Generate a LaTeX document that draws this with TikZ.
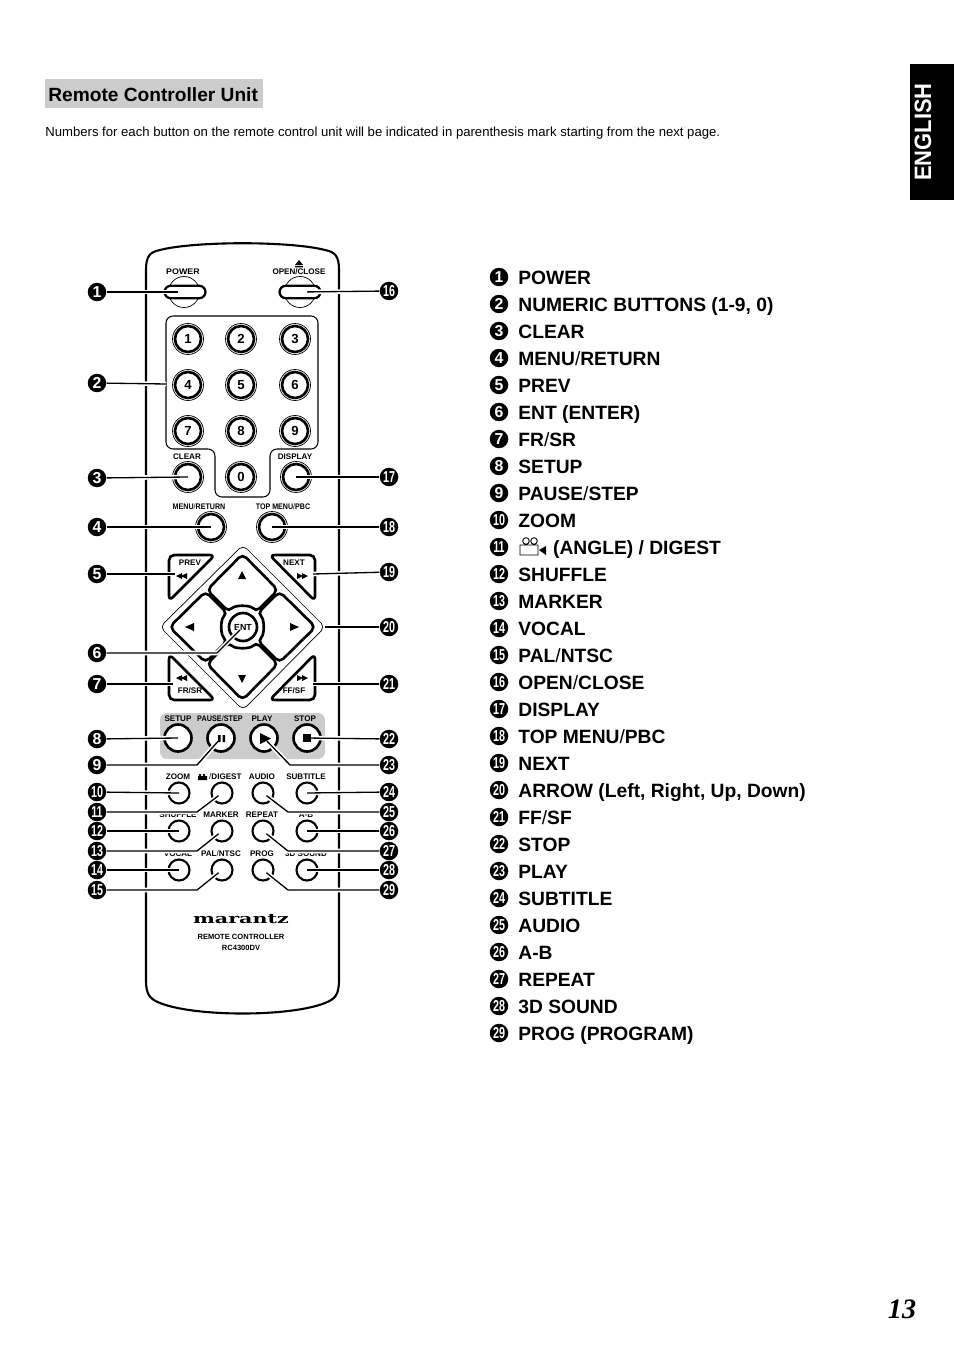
\documentclass[tikz,border=0pt]{standalone}
\usepackage{fontspec}
\setmainfont{Liberation Sans}
\newfontfamily\serifnum{Liberation Serif}
\newfontfamily\brandfont{DejaVu Serif}
\newcommand{\fs}[1]{\fontsize{#1}{#1}\selectfont}
\newcommand{\sla}{\textmd{/}}
\newcommand{\dotnum}[1]{\ifnum#1>9 \scalebox{.68}[1]{#1}\else #1\fi}
\tikzset{
  numdot/.style={circle,fill=black,text=white,inner sep=0pt,minimum size=0.37cm,font=\bfseries\fs{9}},
  legend/.style={anchor=west,inner sep=0pt,text height=8pt,text depth=0pt,font=\bfseries\fs{10.95}},
  tiny/.style={inner sep=0pt,font=\bfseries\fs{4.6}},
  hair/.style={line width=.4pt},
  keybtn/.style={circle,draw,fill=white,line width=1.5pt,inner sep=0pt,minimum size=0.52cm,font=\bfseries\fs{7.5}},
  gobtn/.style={circle,draw,fill=white,line width=1.5pt,inner sep=0pt,minimum size=0.54cm},
  smallbtn/.style={circle,draw,line width=1.2pt,inner sep=0pt,minimum size=0.42cm},
  capsule/.style={draw,fill=white,line width=1.3pt,rounded corners=3.6pt,inner sep=0pt,minimum width=0.82cm,minimum height=0.25cm},
  padkey/.style={draw,fill=white,line width=1.5pt,rounded corners=3pt},
  leader/.style={draw,line width=.75pt,preaction={draw=white,line width=2.6pt}}
}
\begin{document}
\begin{tikzpicture}[x=0.02cm,y=-0.02cm]
\useasboundingbox (0,0) rectangle (954,1351);
% heading
\fill[gray!40] (45,79) rectangle (263,108);
\node[anchor=west,inner sep=0pt,font=\bfseries\fs{10.9}] (title) at (48,95) {Remote Controller Unit};
\node[anchor=west,inner sep=0pt,font=\fs{7.47}] (intro) at (45,133) {Numbers for each button on the remote control unit will be indicated in parenthesis mark starting from the next page.};
\fill (910,64) rectangle (954,200);
\node[rotate=90,text=white,inner sep=0pt,font=\bfseries\fs{13.5}] (lang) at (923,132) {\scalebox{.925}[1]{ENGLISH}};
\node[inner sep=0pt,font=\serifnum\bfseries\itshape\fs{16}] (page) at (902,1309) {13};
% remote body
\draw[line width=1.2pt] (146,270) .. controls (146,256) and (150,252) .. (160,250) .. controls (195,241) and (290,241) .. (325,250)
  .. controls (335,252) and (339,256) .. (339,270) -- (339,980) .. controls (339,995) and (335,999) .. (325,1003)
  .. controls (290,1017) and (195,1017) .. (160,1003) .. controls (150,999) and (146,995) .. (146,980) -- cycle;
\draw[line width=.6pt,rounded corners=4pt] (166,316) -- (318,316) -- (318,449) -- (270,449) -- (270,497) -- (215,497) -- (215,449) -- (166,449) -- cycle;
\coordinate (panel) at (166,384);
% power and eject
\draw[hair] (184,292) circle (15.5);
\draw[hair] (300,292) circle (15.5);
\node[capsule] (power) at (185,292) {};
\node[capsule] (open) at (300,292) {};
\node[tiny] (lpower) at (183,272) {\scalebox{1.1}[1]{POWER}};
\node[tiny] (lopen) at (299,272) {OPEN/CLOSE};
\fill (295,265) -- (299,260) -- (303,265) -- cycle (295,266) rectangle (303,267.5);
% number keys
\foreach \n/\p in {1/{188,339},2/{241,339},3/{295,339},4/{188,385},5/{241,385},6/{295,385},7/{188,431},8/{241,431},9/{295,431},0/{241,477}}{
  \draw[hair] (\p) circle (15.5);
  \node[keybtn] (key\n) at (\p) {\n};
}
\foreach \k/\p/\t/\q in {clear/{188,477}/CLEAR/{187,457},display/{296,477}/DISPLAY/{295,457},menu/{211,527}/{\scalebox{.88}[1]{MENU\sla RETURN}}/{199,507},topmenu/{272,527}/{\scalebox{.88}[1]{TOP MENU\sla PBC}}/{283,507}}{
  \draw[hair] (\p) circle (15.5);
  \node[keybtn] (\k) at (\p) {};
  \node[tiny] (l\k) at (\q) {\t};
}
% arrow pad
\draw[hair,rounded corners=3pt] (243,545) -- (325,627) -- (243,710) -- (160,627) -- cycle;
\coordinate (padedge) at (325,627);
\draw[hair] (243,627) circle (38);
\path[padkey] (242.5,554) -- (278,590) -- (256,612) .. controls (250,605) and (235,605) .. (229,612) -- (207,590) -- cycle;
\path[padkey] (242.5,700) -- (278,664) -- (256,642) .. controls (250,649) and (235,649) .. (229,642) -- (207,664) -- cycle;
\path[padkey] (169.5,627) -- (205.5,662.5) -- (227.5,640.5) .. controls (220.5,634.5) and (220.5,619.5) .. (227.5,613.5) -- (205.5,591.5) -- cycle;
\path[padkey] (315.5,627) -- (279.5,662.5) -- (257.5,640.5) .. controls (264.5,634.5) and (264.5,619.5) .. (257.5,613.5) -- (279.5,591.5) -- cycle;
\fill (242,571) -- (246,579) -- (238,579) -- cycle (242,683) -- (246,675) -- (238,675) -- cycle;
\fill (185,627) -- (194,623) -- (194,631) -- cycle (299,627) -- (290,623) -- (290,631) -- cycle;
\node[keybtn,minimum size=0.56cm,font=\bfseries\fs{5}] (ent) at (243,627) {ENT};
% corner keys
\path[padkey] (169,555) -- (215,555) -- (169,601) -- cycle;
\path[padkey] (315,555) -- (269.5,555) -- (315,601) -- cycle;
\path[padkey] (169,700) -- (215,700) -- (169,654) -- cycle;
\path[padkey] (315,700) -- (269.5,700) -- (315,654) -- cycle;
\coordinate (prev) at (175,574);
\coordinate (next) at (313,574);
\coordinate (fr) at (173,684);
\coordinate (ff) at (313,684);
\node[tiny] (lprev) at (190,563) {PREV};
\node[tiny] (lnext) at (294,563) {NEXT};
\node[tiny] (lfr) at (190,691) {FR/SR};
\node[tiny] (lff) at (294,691) {FF/SF};
\fill (176,576) -- (182,573) -- (182,579) -- cycle (181,576) -- (187,573) -- (187,579) -- cycle;
\fill (308,576) -- (302,573) -- (302,579) -- cycle (303,576) -- (297,573) -- (297,579) -- cycle;
\fill (176,678) -- (182,675) -- (182,681) -- cycle (181,678) -- (187,675) -- (187,681) -- cycle;
\fill (308,678) -- (302,675) -- (302,681) -- cycle (303,678) -- (297,675) -- (297,681) -- cycle;
% transport strip
\fill[gray!40,rounded corners=4pt] (160,713) rectangle (325,759);
\foreach \k/\x in {setup/178,pause/221,play/264,stop/307}{
  \node[gobtn] (\k) at (\x,738) {};
}
\node[tiny] (lsetup) at (178,719) {SETUP};
\node[tiny] (lpause) at (220,719) {\scalebox{.9}[1]{PAUSE\sla STEP}};
\node[tiny] (lplay) at (262,719) {PLAY};
\node[tiny] (lstop) at (305,719) {STOP};
% small keys
\foreach \k/\x/\y/\t in {zoom/179/793/ZOOM,digest/222/793/{\hspace{5pt}\sla DIGEST},audio/263/793/AUDIO,subtitle/307/793/SUBTITLE,
  shuffle/179/831/SHUFFLE,marker/222/831/MARKER,repeat/263/831/REPEAT,ab/307/831/A-B,
  vocal/179/870/VOCAL,pal/222/870/PAL\sla NTSC,prog/263/870/PROG,sound/307/870/3D SOUND}{
  \node[smallbtn] (\k) at (\x,\y) {};
  \node[tiny,yshift=0.32cm] (l\k) at (\x-1,\y) {\t};
}
\fill (198,780) rectangle (207,776) (200,775) circle (1.3) (204,775) circle (1.3);
% brand
\node[inner sep=0pt,xscale=1.55,font=\brandfont\bfseries\fs{7.6}] (brand) at (241,919) {marantz};
\node[tiny,font=\bfseries\fs{4.3}] (rc) at (241,937) {REMOTE CONTROLLER};
\node[tiny,font=\bfseries\fs{4.3}] (model) at (241,948) {RC4300DV};
% callout dots
\foreach \n/\y in {1/292,2/383,3/478,4/527,5/574,6/653,7/684,8/739,9/765,10/792,11/812,12/831,13/851,14/870,15/890}{
  \node[numdot] (d\n) at (97,\y) {\dotnum{\n}};
}
\foreach \n/\y in {16/291,17/477,18/527,19/572,20/627,21/684,22/739,23/765,24/792,25/812,26/831,27/851,28/870,29/890}{
  \node[numdot] (d\n) at (389,\y) {\dotnum{\n}};
}
% leaders
\draw[leader,shorten >=4pt] (d1) -- (power.center);
\draw[leader,shorten >=4pt] (d16) -- (open.center);
\foreach \a/\b in {d2/panel,d3/clear,d4/menu,d5/prev,d7/fr,d8/setup,d10/zoom,d12/shuffle,d14/vocal,
  d17/display,d18/topmenu,d19/next,d20/padedge,d21/ff,d22/stop,d24/subtitle,d26/ab,d28/sound}{
  \draw[leader] (\a) -- (\b.center);
}
\foreach \a/\x/\b in {d6/217/ent,d9/197/pause,d11/197/digest,d13/197/marker,d15/197/pal,d23/290/play,d25/288/audio,d27/288/repeat,d29/288/prog}{
  \coordinate (e\a) at (\x,0);
  \draw[leader,shorten >=2.5pt] (\a) -- (e\a |- \a) -- (\b.center);
}
% button marks on top of the leaders
\fill (218,735) rectangle (220.5,742) (222.5,735) rectangle (225,742);
\fill (260,733) -- (271,738.5) -- (260,744) -- cycle;
\fill (303,734) rectangle (311,742);
% list
\foreach \t [count=\n] in {POWER,NUMERIC BUTTONS (1-9{,} 0),CLEAR,MENU\sla RETURN,PREV,ENT (ENTER),FR\sla SR,SETUP,PAUSE\sla STEP,ZOOM,
  \hspace{19.8pt}(ANGLE) / DIGEST,SHUFFLE,MARKER,VOCAL,PAL\sla NTSC,OPEN\sla CLOSE,DISPLAY,TOP MENU\sla PBC,NEXT,
  ARROW (Left{,} Right{,} Up{,} Down),FF\sla SF,STOP,PLAY,SUBTITLE,AUDIO,A-B,REPEAT,3D SOUND,PROG (PROGRAM)}{
  \pgfmathsetmacro{\yy}{277+27*(\n-1)}
  \node[numdot] (n\n) at (499,\yy) {\dotnum{\n}};
  \node[legend] (t\n) at (518,\yy) {\t};
}
% camera mark
\draw[line width=.5pt] (520,545) rectangle (538,555) (526,541) circle (3.3) (534,541) circle (3.3);
\fill (539,550) -- (546,546) -- (546,555) -- cycle;
\end{tikzpicture}
\end{document}
